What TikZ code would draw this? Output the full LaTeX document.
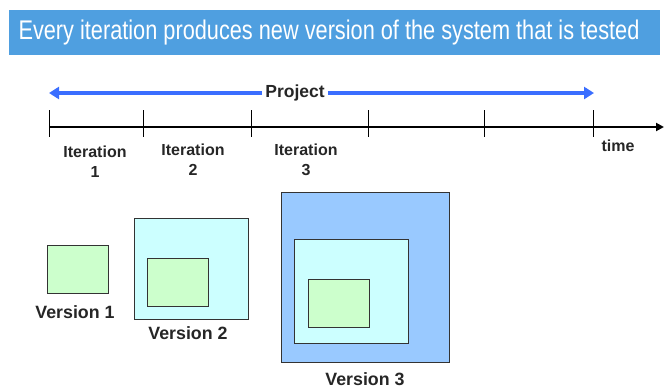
\documentclass[tikz,border=0pt]{standalone}
\usepackage{fontspec}
\setmainfont{Liberation Sans}
\usetikzlibrary{arrows.meta}
\definecolor{banner}{HTML}{4F9FE0}
\definecolor{projblue}{HTML}{3A6EFF}
\definecolor{vgreen}{HTML}{CCFFCC}
\definecolor{vcyan}{HTML}{CCFFFF}
\definecolor{vblue}{HTML}{99C9FF}
\definecolor{edge}{HTML}{333333}
\tikzset{
  lbl/.style={font=\fontsize{16}{20}\selectfont\bfseries, text=black!85, align=center, inner sep=0pt},
  vlbl/.style={font=\fontsize{17.8}{20}\selectfont\bfseries, text=black!85, inner sep=0pt},
  box/.style={draw=edge, line width=1.2pt, inner sep=0pt, anchor=north west},
  tick/.style={line width=0.9pt, black},
  projarrow/.style={projblue, line width=4pt, -{Triangle[length=10pt,width=12pt]}},
}
\begin{document}
\begin{tikzpicture}[x=1pt,y=-1pt]
\useasboundingbox (0,0) rectangle (669,389);
% banner
\node[fill=banner, minimum width=651pt, minimum height=45pt, inner sep=0pt, anchor=north west] (banner) at (9,10) {};
\node[text=white, font=\fontsize{27}{30}\selectfont, inner sep=0pt] (title) at (329,33) {\scalebox{0.805}[1]{Every iteration produces new version of the system that is tested}};
% project arrow
\node[font=\fontsize{17.5}{20}\selectfont\bfseries, text=black!85, inner sep=3pt] (proj) at (295,93) {Project};
\coordinate (pl) at (49,93);
\coordinate (pr) at (594,93);
\draw[projarrow] (proj.west) -- (pl);
\draw[projarrow] (proj.east) -- (pr);
% timeline
\coordinate (t0) at (49,127);
\coordinate (tend) at (664,127);
\draw[line width=2pt, -{Triangle[length=8pt,width=8pt]}] (t0) -- (tend);
\foreach \x/\n in {49/a,143/b,251/c,368/d,484/e,593/f}{
  \coordinate (tk\n top) at (\x,110);
  \coordinate (tk\n bot) at (\x,137);
  \draw[tick] (tk\n top) -- (tk\n bot);
}
\node[lbl] (it1) at (95,162) {Iteration\\1};
\node[lbl] (it2) at (193,160) {Iteration\\2};
\node[lbl] (it3) at (306,160) {Iteration\\3};
\node[lbl] (time) at (618,146) {time};
% version 1
\node[box, fill=vgreen, minimum width=61pt, minimum height=48pt] (v1) at (47,245) {};
\node[vlbl] (v1l) at (75,312) {Version 1};
% version 2
\node[box, fill=vcyan, minimum width=114pt, minimum height=101pt] (v2o) at (134,218) {};
\node[box, fill=vgreen, minimum width=61pt, minimum height=48pt] (v2i) at (147,258) {};
\node[vlbl] (v2l) at (188,333) {Version 2};
% version 3
\node[box, fill=vblue, minimum width=168pt, minimum height=170pt] (v3o) at (281,192) {};
\node[box, fill=vcyan, minimum width=114pt, minimum height=104pt] (v3m) at (294,239) {};
\node[box, fill=vgreen, minimum width=61pt, minimum height=48pt] (v3i) at (308,279) {};
\node[vlbl] (v3l) at (365,379) {Version 3};
\end{tikzpicture}
\end{document}
